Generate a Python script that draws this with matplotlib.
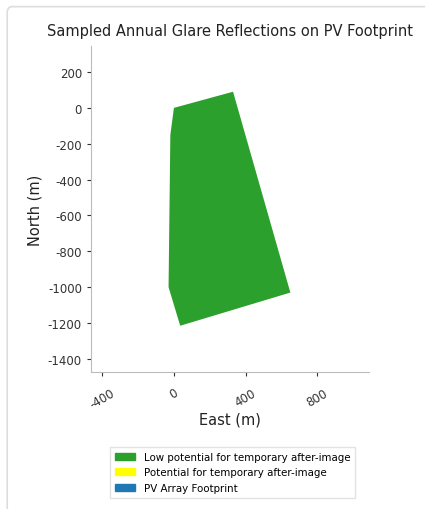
import matplotlib
matplotlib.use("Agg")
import matplotlib.pyplot as plt
from matplotlib.patches import Patch, FancyBboxPatch

plt.rcParams["axes.unicode_minus"] = False

# footprint outline (east, north) in metres
east = [0, 330, 650, 35, -30, -20]
north = [0, 90, -1030, -1215, -1000, -150]

legend_labels = ["Low potential for temporary after-image",
                 "Potential for temporary after-image",
                 "PV Array Footprint"]
legend_colors = ["#2ca02c", "#ffff00", "#1f77b4"]

xticks = [-400, 0, 400, 800]
yticks = [200, 0, -200, -400, -600, -800, -1000, -1200, -1400]

fig = plt.figure(figsize=(4.25, 5.1), dpi=100)

# light card outline
card = FancyBboxPatch((0.017, -0.05), 1.1, 1.035, boxstyle="round,pad=0,rounding_size=0.012",
                      transform=fig.transFigure, facecolor="white", edgecolor="#dddddd",
                      linewidth=1.2, zorder=-10)
fig.patches.append(card)

ax = fig.add_axes([91 / 425, 1 - 373 / 510, 278 / 425, 326 / 510])
ax.fill(east, north, color=legend_colors[0], linewidth=0)

ax.set_xlim(-463, 1089)
ax.set_ylim(-1473, 345)
ax.set_aspect("equal", adjustable="datalim")
ax.set_xticks(xticks)
ax.set_yticks(yticks)
ax.tick_params(axis="x", labelrotation=30, labelsize=8.5, colors="#333333", length=3, pad=7)
ax.tick_params(axis="y", labelsize=8.5, colors="#333333", length=3)
for lab in ax.get_xticklabels():
    lab.set_ha("center")
for side in ["top", "right"]:
    ax.spines[side].set_visible(False)
for side in ["left", "bottom"]:
    ax.spines[side].set_color("#bbbbbb")

ax.set_xlabel("East (m)", fontsize=10.5, color="#222222", labelpad=1)
ax.set_ylabel("North (m)", fontsize=10.5, color="#222222")
ax.set_title("Sampled Annual Glare Reflections on PV Footprint", fontsize=10.5,
             color="#222222", pad=8)

handles = [Patch(color=c, label=l) for c, l in zip(legend_colors, legend_labels)]
fig.legend(handles=handles, loc="upper left", bbox_to_anchor=(105 / 425, 1 - 443 / 510),
           fontsize=7.4, frameon=True, edgecolor="#dddddd", fancybox=False,
           handlelength=2.0, handleheight=0.7, labelspacing=0.55, borderpad=0.45,
           handletextpad=0.8)

fig.savefig("out.png", dpi=100)
